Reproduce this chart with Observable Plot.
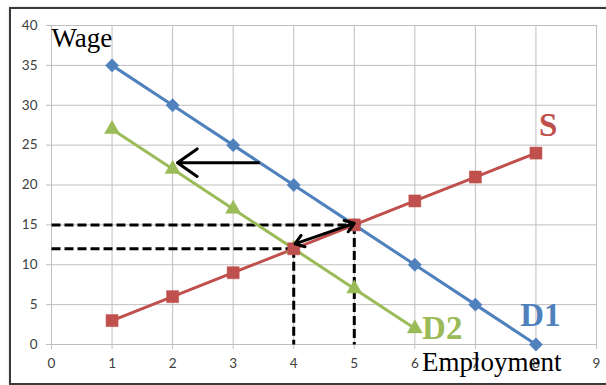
<!DOCTYPE html>
<html>
<head>
<meta charset="utf-8">
<script src="https://cdn.jsdelivr.net/npm/d3@7"></script>
<script src="https://cdn.jsdelivr.net/npm/@observablehq/plot@0.6"></script>
<style>
  html, body { margin: 0; padding: 0; background: #fff; }
  #wrap { position: relative; width: 606px; height: 385px; overflow: hidden; }
  #frame { position: absolute; left: 9px; top: 7px; width: 620px; height: 374px;
           border: 2px solid #3a3a3a; box-shadow: 1px 1px 3px #999; pointer-events: none; }
  #chart { position: absolute; left: 0; top: 0; }
  #chart svg g[aria-label$="tick label"] text { font-size: 13.5px !important; }
</style>
</head>
<body>
<div id="wrap"><div id="frame"></div><div id="chart"></div></div>
<script>
const employment = [1, 2, 3, 4, 5, 6, 7, 8];
const d1Wage = [35, 30, 25, 20, 15, 10, 5, 0];
const d2Employment = [1, 2, 3, 4, 5, 6];
const d2Wage = [27, 22, 17, 12, 7, 2];
const sWage = [3, 6, 9, 12, 15, 18, 21, 24];
const xTicks = [0, 1, 2, 3, 4, 5, 6, 7, 8, 9];
const yTicks = [0, 5, 10, 15, 20, 25, 30, 35, 40];

// dashed guide segments (equilibria)
const guides = [
  {x1: 0, y1: 15, x2: 5, y2: 15},
  {x1: 0, y1: 12, x2: 4, y2: 12},
  {x1: 5, y1: 15, x2: 5, y2: 0},
  {x1: 4, y1: 12, x2: 4, y2: 0}
];
// arrows (shift of demand, movement of equilibrium — double headed)
const arrows = [
  {x1: 3.42, y1: 22.8, x2: 2.08, y2: 22.8},
  {x1: 4.51, y1: 13.9, x2: 4.02, y2: 12.62},
  {x1: 4.51, y1: 13.9, x2: 5.0, y2: 15.2}
];
// text annotations
const axisNames = [
  {label: "Wage", x: 0, y: 38.4},
  {label: "Employment", x: 6.12, y: -2.18}
];
const curveNames = [
  {label: "S", x: 8.05, y: 27.5, color: "#c0504d"},
  {label: "D1", x: 7.74, y: 3.7, color: "#4f81bd"},
  {label: "D2", x: 6.12, y: 1.96, color: "#9bbb59"}
];

const d1 = employment.map((e, i) => ({x: e, y: d1Wage[i]}));
const d2 = d2Employment.map((e, i) => ({x: e, y: d2Wage[i]}));
const s = employment.map((e, i) => ({x: e, y: sWage[i]}));

const blue = "#4f81bd", red = "#c0504d", green = "#9bbb59";

const chart = Plot.plot({
  width: 606,
  height: 385,
  marginLeft: 51,
  marginRight: 10,
  marginTop: 25,
  marginBottom: 41,
  style: {fontFamily: "Lato, 'Open Sans', sans-serif", fontSize: "13px", color: "#404040", background: "transparent"},
  x: {domain: [0, 9]},
  y: {domain: [0, 40]},
  marks: [
    Plot.ruleX(xTicks, {stroke: "#bfbfbf", strokeWidth: 1}),
    Plot.ruleY(yTicks, {stroke: "#bfbfbf", strokeWidth: 1}),
    Plot.axisX(xTicks, {tickSize: 5, tickPadding: 9, stroke: "#bfbfbf", fill: "#404040", label: null}),
    Plot.axisY(yTicks, {tickSize: 5, tickPadding: 9, stroke: "#bfbfbf", fill: "#404040", label: null}),
    Plot.link(guides, {x1: "x1", y1: "y1", x2: "x2", y2: "y2", stroke: "black", strokeWidth: 3, strokeDasharray: "9,4"}),
    Plot.line(d1, {x: "x", y: "y", stroke: blue, strokeWidth: 3}),
    Plot.line(d2, {x: "x", y: "y", stroke: green, strokeWidth: 3}),
    Plot.line(s, {x: "x", y: "y", stroke: red, strokeWidth: 3}),
    Plot.dot(d1, {x: "x", y: "y", symbol: "diamond2", r: 6, fill: blue, stroke: blue, strokeWidth: 0.5}),
    Plot.dot(d2, {x: "x", y: "y", symbol: "triangle", r: 5.6, fill: green, stroke: green, strokeWidth: 0.5}),
    Plot.dot(s, {x: "x", y: "y", symbol: "square", r: 6.8, fill: red, stroke: red, strokeWidth: 0.5}),
    Plot.arrow(arrows, {x1: "x1", y1: "y1", x2: "x2", y2: "y2", stroke: "black", strokeWidth: 3, headLength: 12, headAngle: 70}),
    Plot.text(axisNames, {x: "x", y: "y", text: "label", textAnchor: "start", lineAnchor: "middle", fontFamily: "'Liberation Serif', 'DejaVu Serif', serif", fontSize: 27, fill: "black"}),
    Plot.text(curveNames, {x: "x", y: "y", text: "label", textAnchor: "start", lineAnchor: "middle", fontFamily: "'Liberation Serif', 'DejaVu Serif', serif", fontSize: 33, fontWeight: "bold", fill: "color"})
  ]
});
document.getElementById("chart").appendChild(chart);
</script>
</body>
</html>
